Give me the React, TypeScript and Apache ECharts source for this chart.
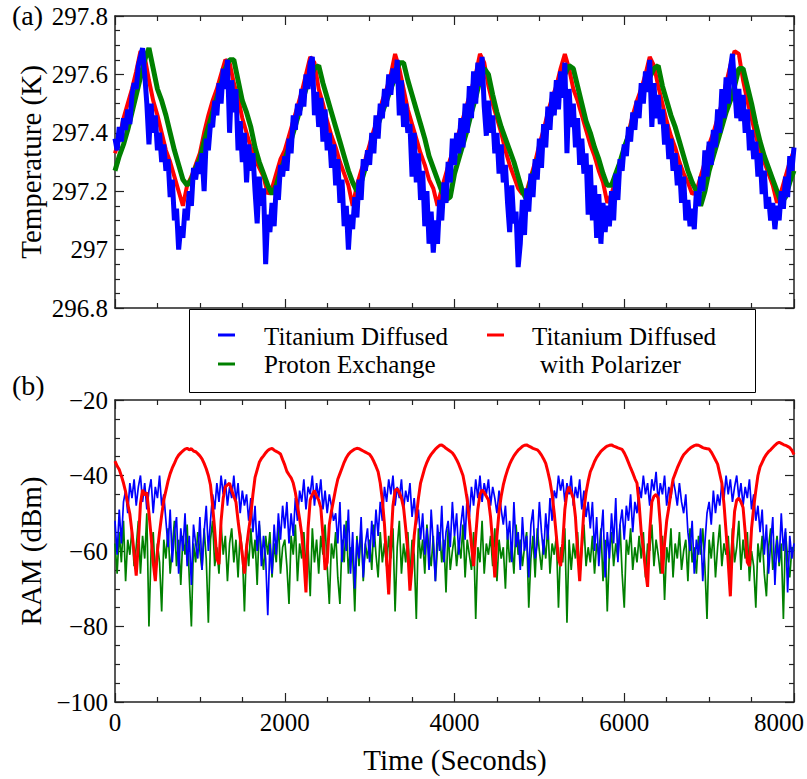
import React, { useEffect, useRef } from "react";
import * as echarts from "echarts";

// ---------- data ----------
const TEMP_STEP = 50; // seconds between samples of the smooth temperature traces
const FAST_STEP = 25; // seconds between samples of the noisy traces

const xTicks = [0, 2000, 4000, 6000, 8000];
const tempTicks = [296.8, 297, 297.2, 297.4, 297.6, 297.8];
const ramTicks = [-100, -80, -60, -40, -20];

// Panel (a): Titanium Diffused with Polarizer (red)
const redTemp = [
  297.33, 297.38, 297.45, 297.5, 297.55, 297.61, 297.68, 297.66, 297.58, 297.51,
  297.46, 297.4, 297.34, 297.3, 297.25, 297.2, 297.15, 297.22, 297.25, 297.29,
  297.33, 297.4, 297.46, 297.51, 297.55, 297.6, 297.65, 297.64, 297.57, 297.52,
  297.45, 297.4, 297.35, 297.31, 297.28, 297.25, 297.19, 297.21, 297.26, 297.31,
  297.34, 297.39, 297.44, 297.49, 297.54, 297.6, 297.66, 297.64, 297.55, 297.5,
  297.44, 297.39, 297.35, 297.3, 297.26, 297.22, 297.15, 297.22, 297.27, 297.31,
  297.36, 297.41, 297.45, 297.51, 297.55, 297.6, 297.67, 297.62, 297.55, 297.48,
  297.43, 297.38, 297.33, 297.29, 297.24, 297.21, 297.15, 297.21, 297.26, 297.31,
  297.35, 297.4, 297.45, 297.5, 297.55, 297.6, 297.67, 297.64, 297.56, 297.5,
  297.45, 297.4, 297.34, 297.29, 297.25, 297.21, 297.19, 297.2, 297.25, 297.3,
  297.36, 297.41, 297.47, 297.52, 297.56, 297.62, 297.67, 297.62, 297.55, 297.51,
  297.46, 297.41, 297.36, 297.32, 297.27, 297.23, 297.16, 297.19, 297.24, 297.29,
  297.34, 297.4, 297.46, 297.51, 297.55, 297.6, 297.66, 297.63, 297.56, 297.5,
  297.44, 297.39, 297.35, 297.3, 297.26, 297.23, 297.19, 297.2, 297.25, 297.3,
  297.36, 297.4, 297.45, 297.5, 297.57, 297.63, 297.68, 297.67, 297.58, 297.51,
  297.45, 297.39, 297.34, 297.3, 297.26, 297.22, 297.16, 297.2, 297.25, 297.3,
  297.34,
];

// Panel (a): Proton Exchange (green)
const greenTemp = [
  297.27, 297.32, 297.36, 297.41, 297.47, 297.53, 297.59, 297.65, 297.69, 297.62,
  297.55, 297.51, 297.46, 297.4, 297.34, 297.29, 297.24, 297.22, 297.24, 297.28,
  297.31, 297.37, 297.42, 297.47, 297.52, 297.57, 297.62, 297.65, 297.65, 297.58,
  297.51, 297.47, 297.42, 297.35, 297.3, 297.26, 297.22, 297.19, 297.22, 297.27,
  297.31, 297.35, 297.4, 297.45, 297.5, 297.55, 297.59, 297.62, 297.63, 297.57,
  297.52, 297.47, 297.42, 297.37, 297.32, 297.27, 297.23, 297.2, 297.23, 297.28,
  297.33, 297.38, 297.43, 297.47, 297.51, 297.55, 297.59, 297.64, 297.64, 297.58,
  297.53, 297.48, 297.43, 297.38, 297.32, 297.28, 297.24, 297.2, 297.17, 297.18,
  297.26, 297.31, 297.36, 297.41, 297.47, 297.52, 297.58, 297.62, 297.6, 297.53,
  297.47, 297.42, 297.38, 297.34, 297.3, 297.25, 297.2, 297.17, 297.24, 297.28,
  297.33, 297.38, 297.43, 297.47, 297.52, 297.57, 297.6, 297.63, 297.62, 297.56,
  297.5, 297.44, 297.4, 297.35, 297.31, 297.26, 297.22, 297.22, 297.26, 297.3,
  297.35, 297.39, 297.44, 297.48, 297.52, 297.56, 297.59, 297.62, 297.63, 297.56,
  297.51, 297.46, 297.42, 297.37, 297.32, 297.27, 297.23, 297.2, 297.15, 297.2,
  297.27, 297.32, 297.37, 297.42, 297.47, 297.51, 297.56, 297.62, 297.62, 297.56,
  297.5, 297.43, 297.37, 297.32, 297.28, 297.24, 297.2, 297.16, 297.18, 297.23,
  297.27,
];

// Panel (a): Titanium Diffused (blue, noisy)
const blueTemp = [
  297.38, 297.34, 297.42, 297.37, 297.45, 297.41, 297.48, 297.43,
  297.53, 297.57, 297.55, 297.63, 297.66, 297.69, 297.6, 297.5,
  297.36, 297.5, 297.4, 297.46, 297.34, 297.4, 297.3, 297.36,
  297.27, 297.31, 297.18, 297.24, 297.1, 297.14, 297.0, 297.08,
  297.04, 297.14, 297.1, 297.2, 297.15, 297.28, 297.24, 297.3,
  297.26, 297.33, 297.2, 297.38, 297.34, 297.43, 297.42, 297.51,
  297.46, 297.57, 297.5, 297.62, 297.55, 297.65, 297.4, 297.58,
  297.47, 297.55, 297.34, 297.44, 297.3, 297.4, 297.23, 297.36,
  297.27, 297.33, 297.2, 297.09, 297.25, 297.15, 297.21, 296.95,
  297.12, 297.06, 297.16, 297.08, 297.22, 297.17, 297.29, 297.25,
  297.32, 297.27, 297.38, 297.33, 297.46, 297.41, 297.5, 297.46,
  297.55, 297.49, 297.6, 297.55, 297.64, 297.66, 297.46, 297.54,
  297.42, 297.52, 297.37, 297.48, 297.34, 297.4, 297.28, 297.36,
  297.22, 297.31, 297.16, 297.24, 297.08, 297.15, 297.0, 297.12,
  297.07, 297.18, 297.11, 297.24, 297.17, 297.31, 297.27, 297.34,
  297.29, 297.4, 297.33, 297.46, 297.38, 297.5, 297.45, 297.55,
  297.49, 297.6, 297.53, 297.62, 297.57, 297.65, 297.46, 297.58,
  297.42, 297.5, 297.4, 297.43, 297.25, 297.4, 297.23, 297.33,
  297.17, 297.27, 297.08, 297.2, 297.02, 297.13, 296.99, 297.1,
  297.02, 297.17, 297.1, 297.23, 297.16, 297.3, 297.23, 297.38,
  297.29, 297.4, 297.33, 297.45, 297.35, 297.5, 297.4, 297.56,
  297.45, 297.61, 297.5, 297.64, 297.56, 297.66, 297.49, 297.39,
  297.51, 297.4, 297.46, 297.33, 297.4, 297.26, 297.36, 297.23,
  297.29, 297.16, 297.06, 297.22, 297.09, 297.13, 296.94, 297.02,
  297.17, 297.05, 297.21, 297.13, 297.26, 297.18, 297.31, 297.24,
  297.38, 297.28, 297.43, 297.35, 297.49, 297.41, 297.54, 297.46,
  297.58, 297.48, 297.61, 297.52, 297.64, 297.33, 297.55, 297.42,
  297.5, 297.35, 297.45, 297.29, 297.38, 297.26, 297.33, 297.12,
  297.29, 297.1, 297.22, 297.04, 297.19, 297.02, 297.16, 297.06,
  297.15, 297.08, 297.2, 297.1, 297.26, 297.17, 297.31, 297.27,
  297.36, 297.32, 297.42, 297.37, 297.47, 297.41, 297.51, 297.45,
  297.57, 297.5, 297.61, 297.54, 297.65, 297.42, 297.57, 297.45,
  297.53, 297.43, 297.48, 297.36, 297.43, 297.31, 297.38, 297.27,
  297.33, 297.22, 297.29, 297.16, 297.25, 297.1, 297.17, 297.08,
  297.14, 297.07, 297.2, 297.15, 297.25, 297.2, 297.34, 297.25,
  297.37, 297.29, 297.41, 297.35, 297.48, 297.4, 297.55, 297.45,
  297.59, 297.5, 297.62, 297.67, 297.56, 297.45, 297.55, 297.44,
  297.53, 297.4, 297.48, 297.34, 297.41, 297.31, 297.37, 297.25,
  297.33, 297.19, 297.27, 297.14, 297.18, 297.1, 297.16, 297.07,
  297.15, 297.1, 297.2, 297.14, 297.25, 297.18, 297.32, 297.27,
  297.35,
];

// Panel (b): RAM, Titanium Diffused with Polarizer (red)
const redRam = [
  -36.2, -37.5, -38.4, -40.1, -42.0, -44.3, -47.5, -50.2,
  -55.0, -60.5, -66.5, -58.0, -47.5, -43.8, -45.2, -44.5,
  -50.0, -56.0, -63.0, -68.0, -60.0, -55.0, -50.5, -46.5,
  -44.0, -41.5, -39.5, -38.0, -36.8, -35.5, -34.6, -34.0,
  -33.5, -33.0, -32.8, -33.2, -32.9, -33.5, -33.7, -34.2,
  -34.8, -35.6, -36.8, -38.2, -40.0, -42.5, -48.0, -54.5,
  -62.0, -63.5, -52.0, -46.0, -43.0, -42.5, -42.0, -44.0,
  -45.5, -47.0, -52.0, -56.5, -61.0, -66.0, -59.0, -54.5,
  -50.5, -45.0, -40.5, -38.5, -36.5, -35.5, -34.8, -34.0,
  -33.4, -33.0, -32.8, -33.3, -33.6, -33.9, -34.3, -35.8,
  -37.2, -38.9, -39.8, -40.6, -42.0, -44.5, -48.0, -51.5,
  -55.5, -62.0, -71.0, -54.0, -46.5, -45.0, -44.0, -45.5,
  -46.5, -48.5, -56.0, -65.0, -63.0, -53.0, -49.5, -46.5,
  -43.5, -41.0, -39.5, -38.0, -36.5, -35.3, -34.4, -33.8,
  -33.4, -33.0, -32.8, -32.9, -33.2, -33.5, -33.8, -34.1,
  -34.4, -35.2, -36.3, -37.6, -39.0, -42.0, -46.5, -53.0,
  -62.5, -71.5, -58.0, -48.0, -44.0, -43.5, -44.5, -46.0,
  -48.5, -54.0, -60.0, -70.5, -64.0, -56.0, -51.0, -46.0,
  -42.0, -40.0, -38.0, -36.5, -35.3, -34.4, -33.7, -33.0,
  -32.5, -32.0, -31.9, -32.3, -32.8, -33.2, -33.6, -34.0,
  -34.8, -35.8, -37.0, -38.5, -40.0, -43.0, -46.5, -52.0,
  -58.5, -64.0, -56.0, -49.0, -45.0, -43.8, -44.5, -45.5,
  -46.5, -51.0, -58.0, -67.0, -56.0, -49.5, -45.5, -42.5,
  -40.3, -38.5, -37.0, -35.8, -34.8, -34.0, -33.3, -32.8,
  -32.3, -32.0, -31.9, -32.2, -32.5, -32.8, -33.0, -33.2,
  -33.8, -34.6, -35.6, -36.8, -39.0, -41.5, -45.0, -50.0,
  -56.0, -62.0, -64.0, -58.0, -49.0, -44.5, -43.0, -44.5,
  -46.0, -51.0, -60.0, -68.0, -58.0, -49.0, -44.5, -41.5,
  -39.0, -37.7, -36.3, -35.2, -34.4, -33.6, -33.1, -32.6,
  -32.2, -32.0, -31.9, -32.2, -32.4, -32.7, -32.9, -33.1,
  -34.0, -35.2, -36.6, -38.0, -39.3, -40.8, -42.0, -47.5,
  -55.0, -59.5, -65.0, -69.5, -55.0, -47.0, -45.5, -45.0,
  -46.0, -53.0, -66.0, -58.0, -52.0, -48.5, -44.5, -41.0,
  -39.5, -38.0, -36.7, -35.5, -34.5, -33.9, -33.3, -32.8,
  -32.4, -32.1, -31.9, -32.0, -32.3, -32.6, -32.8, -32.9,
  -33.0, -33.8, -34.8, -35.9, -37.0, -39.5, -42.0, -47.5,
  -55.0, -63.0, -72.0, -58.0, -49.5, -46.5, -46.0, -47.0,
  -48.5, -55.0, -63.0, -64.0, -54.0, -48.5, -44.0, -40.0,
  -37.7, -36.5, -35.3, -34.4, -33.7, -33.2, -32.6, -32.0,
  -31.5, -31.2, -31.5, -31.8, -32.0, -32.3, -32.6, -33.3,
  -34.5,
];

// Panel (b): RAM, Titanium Diffused (blue, noisy)
const blueRam = [
  -52, -61, -49, -58, -47, -44, -50, -42,
  -46, -41, -48, -43, -40, -47, -42, -49,
  -44, -41, -50, -43, -46, -40, -48, -45,
  -52, -59, -49, -63, -55, -51, -66, -54,
  -60, -50, -64, -56, -69, -53, -58, -62,
  -51, -65, -55, -48, -60, -52, -45, -49,
  -42, -47, -40, -45, -41, -48, -43, -46,
  -40, -47, -42, -50, -44, -48, -45, -52,
  -46, -55, -48, -60, -52, -64, -56, -62,
  -77, -58, -66, -53, -61, -50, -57, -48,
  -54, -47, -58, -50, -56, -46, -52, -44,
  -47, -41, -49, -43, -45, -40, -48, -42,
  -46, -41, -49, -44, -50, -45, -48, -52,
  -50, -58, -47, -63, -53, -60, -49, -66,
  -55, -70, -57, -62, -51, -67, -58, -54,
  -63, -52, -59, -49, -56, -47, -52, -43,
  -47, -41, -45, -40, -48, -43, -46, -41,
  -49, -44, -47, -42, -51, -46, -53, -49,
  -57, -50, -61, -54, -65, -49, -58, -68,
  -53, -60, -48, -63, -55, -52, -59, -47,
  -56, -50, -61, -53, -48, -57, -45, -51,
  -43, -48, -41, -46, -40, -47, -42, -45,
  -41, -48, -43, -46, -50, -44, -49, -53,
  -48, -57, -52, -63, -47, -59, -55, -65,
  -51, -60, -56, -67, -53, -49, -62, -58,
  -47, -55, -61, -50, -57, -46, -52, -44,
  -46, -40, -44, -41, -47, -42, -45, -40,
  -48, -43, -46, -41, -49, -44, -51, -47,
  -54, -47, -60, -51, -64, -56, -49, -67,
  -55, -62, -50, -58, -46, -63, -53, -49,
  -57, -48, -52, -45, -55, -47, -50, -43,
  -46, -40, -45, -42, -48, -41, -44, -39,
  -47, -42, -45, -40, -48, -43, -46, -41,
  -44, -48, -42, -47, -50, -45, -55, -60,
  -52, -66, -57, -61, -54, -68, -58, -50,
  -47, -53, -44, -50, -45, -48, -42, -46,
  -40, -45, -41, -47, -43, -40, -46, -42,
  -48, -43, -46, -41, -49, -45, -52, -48,
  -55, -49, -61, -53, -66, -58, -51, -69,
  -57, -63, -50, -60, -54, -71, -56, -62,
  -58,
];

// Panel (b): RAM, Proton Exchange (green, noisy)
const greenRam = [
  -58, -66, -55, -63, -52, -68, -57, -61,
  -54, -64, -59, -52, -66, -56, -62, -50,
  -80, -60, -55, -67, -58, -63, -76, -57,
  -62, -54, -66, -59, -52, -64, -57, -69,
  -56, -61, -53, -67, -80, -58, -63, -55,
  -60, -65, -54, -62, -79, -57, -52, -64,
  -59, -66, -53, -61, -56, -68, -58, -54,
  -63, -57, -67, -55, -60, -76, -58, -64,
  -54, -62, -57, -69, -53, -60, -65, -56,
  -61, -55, -67, -58, -63, -52, -66, -59,
  -57, -64, -74, -56, -61, -53, -68, -58,
  -62, -55, -65, -59, -72, -54, -63, -57,
  -66, -56, -61, -53, -64, -74, -58, -62,
  -55, -67, -74, -57, -63, -52, -66, -59,
  -61, -76, -56, -64, -54, -68, -58, -62,
  -57, -65, -53, -61, -67, -55, -63, -58,
  -64, -56, -62, -54, -76, -59, -52, -66,
  -58, -63, -55, -67, -57, -61, -78, -54,
  -62, -57, -66, -53, -60, -64, -56, -68,
  -59, -55, -63, -57, -71, -54, -65, -60,
  -56, -64, -58, -62, -53, -67, -57, -61,
  -65, -55, -78, -59, -63, -52, -66, -58,
  -61, -56, -64, -54, -68, -57, -62, -59,
  -70, -55, -63, -58, -66, -53, -61, -57,
  -64, -59, -55, -75, -62, -56, -67, -54,
  -60, -65, -57, -62, -53, -66, -58, -61,
  -56, -75, -59, -63, -54, -79, -57, -65,
  -58, -62, -55, -67, -60, -53, -64, -59,
  -63, -56, -66, -58, -61, -54, -68, -57,
  -76, -60, -55, -64, -58, -62, -53, -66,
  -75, -57, -61, -54, -65, -59, -63, -56,
  -62, -55, -67, -58, -60, -53, -64, -57,
  -61, -66, -56, -73, -59, -63, -54, -67,
  -58, -62, -55, -65, -60, -57, -68, -54,
  -63, -59, -66, -56, -61, -54, -64, -78,
  -57, -62, -55, -67, -59, -53, -64, -58,
  -61, -56, -66, -54, -63, -59, -52, -65,
  -57, -62, -55, -68, -60, -64, -75, -58,
  -63, -56, -66, -72, -59, -54, -65, -61,
  -56, -64, -58, -78, -55, -62, -67, -59,
  -60,
];

const legendNames = ["Titanium Diffused", "Proton Exchange", "Titanium Diffused", "with Polarizer"];

// ---------- helpers ----------
const FONT = "Liberation Serif";
const INK = "#222";
const pairs = (arr: number[], step: number) => arr.map((v, i) => [i * step, v]);

const axisBase = {
  axisLine: { show: true, onZero: false, lineStyle: { color: INK, width: 1.5 } },
  axisTick: { show: true, inside: true, length: 9, lineStyle: { color: INK, width: 1.2 } },
  minorTick: { show: true, splitNumber: 4, length: 5, lineStyle: { color: INK, width: 1.2 } },
  splitLine: { show: false },
  minorSplitLine: { show: false },
};
const labelStyle = { fontFamily: FONT, fontSize: 25, color: "#000" };

function xAxis(grid: number, pos: "top" | "bottom", labels: boolean) {
  return {
    type: "value",
    gridIndex: grid,
    position: pos,
    min: xTicks[0],
    max: xTicks[xTicks.length - 1],
    interval: xTicks[1] - xTicks[0],
    ...axisBase,
    axisLabel: labels
      ? {
          ...labelStyle,
          margin: 8,
          formatter: (v: number) => (v === xTicks[xTicks.length - 1] ? "{r|" + v + "}" : String(v)),
          rich: { r: { ...labelStyle, padding: [0, 30, 0, 0] } },
        }
      : { show: false },
  };
}

function yAxis(grid: number, pos: "left" | "right", ticks: number[], labels: boolean, fmt: (v: number) => string) {
  return {
    type: "value",
    gridIndex: grid,
    position: pos,
    min: ticks[0],
    max: ticks[ticks.length - 1],
    interval: Math.round((ticks[1] - ticks[0]) * 1000) / 1000,
    ...axisBase,
    axisLabel: labels ? { ...labelStyle, margin: 7, formatter: fmt } : { show: false },
  };
}

const tempFmt = (v: number) => String(Math.round(v * 10) / 10);
const ramFmt = (v: number) => String(Math.round(v)).replace("-", "\u2212");

function textEl(text: string, x: number, y: number, size: number, rotation = 0, align = "left") {
  return {
    type: "text",
    x,
    y,
    rotation,
    z: 100,
    style: {
      text,
      fontFamily: FONT,
      fontSize: size,
      fill: "#000",
      align,
      verticalAlign: "middle",
    },
  };
}

function dash(x: number, y: number, color: string) {
  return {
    type: "line",
    z: 100,
    shape: { x1: x, y1: y, x2: x + 17, y2: y },
    style: { stroke: color, lineWidth: 3 },
  };
}

export default function App() {
  const ref = useRef<HTMLDivElement>(null);

  useEffect(() => {
    if (!ref.current) return;
    const chart = echarts.init(ref.current, undefined, { renderer: "svg" });

    const option = {
      animation: false,
      backgroundColor: "#fff",
      grid: [
        { left: 115, top: 16, width: 679, height: 292, containLabel: false, outerBoundsMode: "none" },
        { left: 115, top: 400, width: 679, height: 302, containLabel: false, outerBoundsMode: "none" },
      ],
      xAxis: [xAxis(0, "bottom", false), xAxis(0, "top", false), xAxis(1, "bottom", true), xAxis(1, "top", false)],
      yAxis: [
        yAxis(0, "left", tempTicks, true, tempFmt),
        yAxis(0, "right", tempTicks, false, tempFmt),
        yAxis(1, "left", ramTicks, true, ramFmt),
        yAxis(1, "right", ramTicks, false, ramFmt),
      ],
      series: [
        {
          name: "Titanium Diffused with Polarizer",
          type: "line",
          xAxisIndex: 0,
          yAxisIndex: 0,
          data: pairs(redTemp, TEMP_STEP),
          showSymbol: false,
          lineStyle: { color: "#ff0000", width: 4, join: "bevel" },
          itemStyle: { color: "#ff0000" },
        },
        {
          name: "Proton Exchange",
          type: "line",
          xAxisIndex: 0,
          yAxisIndex: 0,
          data: pairs(greenTemp, TEMP_STEP),
          showSymbol: false,
          lineStyle: { color: "#008000", width: 5, join: "bevel" },
          itemStyle: { color: "#008000" },
        },
        {
          name: "Titanium Diffused",
          type: "line",
          xAxisIndex: 0,
          yAxisIndex: 0,
          data: pairs(blueTemp, FAST_STEP),
          showSymbol: false,
          lineStyle: { color: "#0000ff", width: 5, join: "bevel" },
          itemStyle: { color: "#0000ff" },
        },
        {
          name: "Proton Exchange RAM",
          type: "line",
          xAxisIndex: 2,
          yAxisIndex: 2,
          data: pairs(greenRam, FAST_STEP),
          showSymbol: false,
          lineStyle: { color: "#008000", width: 1.7, join: "bevel" },
          itemStyle: { color: "#008000" },
        },
        {
          name: "Titanium Diffused RAM",
          type: "line",
          xAxisIndex: 2,
          yAxisIndex: 2,
          data: pairs(blueRam, FAST_STEP),
          showSymbol: false,
          lineStyle: { color: "#0000ff", width: 1.7, join: "bevel" },
          itemStyle: { color: "#0000ff" },
        },
        {
          name: "Titanium Diffused with Polarizer RAM",
          type: "line",
          xAxisIndex: 2,
          yAxisIndex: 2,
          data: pairs(redRam, FAST_STEP),
          showSymbol: false,
          lineStyle: { color: "#ff0000", width: 3, join: "bevel" },
          itemStyle: { color: "#ff0000" },
        },
      ],
      graphic: [
        textEl("(a)", 12, 15, 28),
        textEl("(b)", 12, 385, 28),
        textEl("Temperature (K)", 31, 162, 29, Math.PI / 2, "center"),
        textEl("RAM (dBm)", 31, 551, 29, Math.PI / 2, "center"),
        textEl("Time (Seconds)", 455, 760, 29, 0, "center"),
        {
          type: "rect",
          z: 90,
          shape: { x: 189.5, y: 309.5, width: 566, height: 83 },
          style: { fill: "#fff", stroke: "#000", lineWidth: 1 },
        },
        dash(218, 335, "#0000ff"),
        dash(218, 364, "#008000"),
        dash(487, 335, "#ff0000"),
        textEl(legendNames[0], 264, 336, 25),
        textEl(legendNames[1], 264, 364, 25),
        textEl(legendNames[2], 532, 336, 25),
        textEl(legendNames[3], 540, 364, 25),
      ],
    };

    chart.setOption(option as any);
    return () => chart.dispose();
  }, []);

  return <div ref={ref} style={{ position: "absolute", left: 0, top: 0, width: 807, height: 779 }} />;
}
